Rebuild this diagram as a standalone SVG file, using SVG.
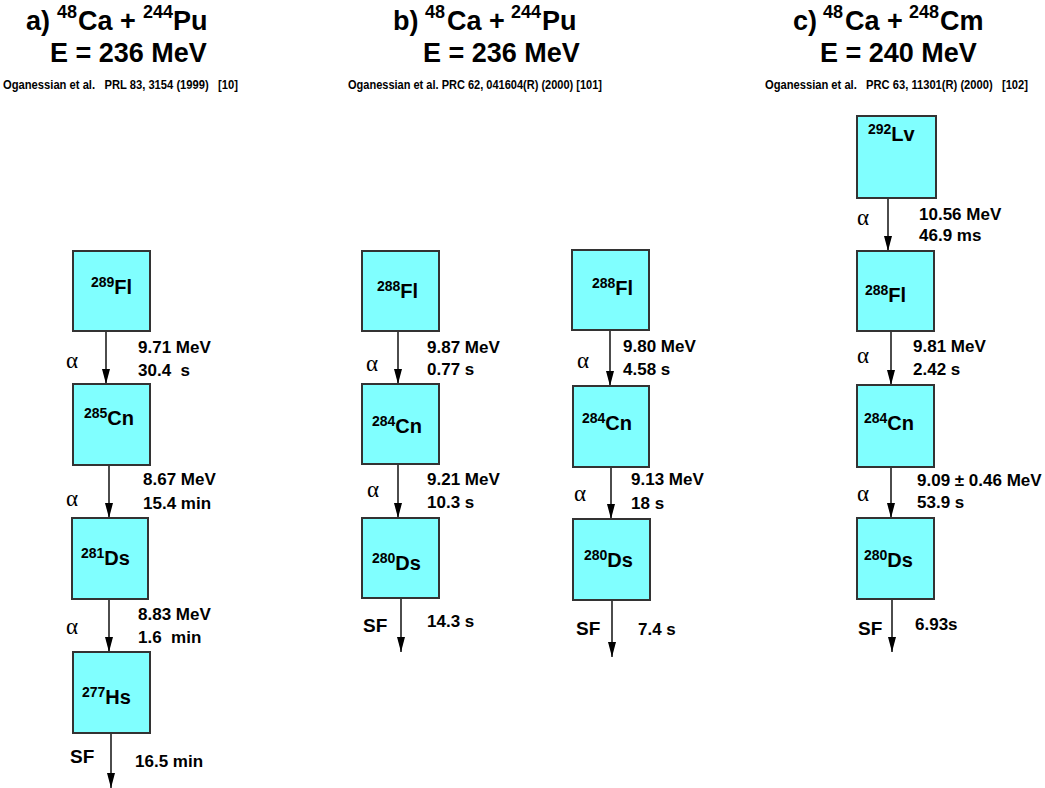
<svg xmlns="http://www.w3.org/2000/svg" width="1045" height="788" viewBox="0 0 1045 788">
<style>
text{font-family:"Liberation Sans",Arial,Helvetica,sans-serif;font-weight:bold;fill:#000}
.box{fill:#80FFFF;stroke:#333;stroke-width:2}
.lbl{font-size:20px}
.sup{font-size:14px}
.val{font-size:17px}
.al{font-family:"Liberation Serif","Times New Roman",serif;font-weight:normal;font-size:23px}
.sf{font-size:19px}
.t1{font-size:27px}
.ts{font-size:18px}
.ref{font-size:12px}
#connectors line{stroke:#000;stroke-width:1.4;marker-end:url(#ah)}
</style>
<defs>
<marker id="ah" viewBox="0 -4 15 8" refX="15" refY="0" markerWidth="15" markerHeight="8" markerUnits="userSpaceOnUse" orient="auto">
<path d="M0,-4 L15,0 L0,4 Z" fill="#000"/>
</marker>
</defs>
<rect width="1045" height="788" fill="#fff"/>

<g id="titles">
<text class="t1" y="30"><tspan x="26">a)</tspan><tspan class="ts" x="57" y="18">48</tspan><tspan x="78" y="30">Ca</tspan><tspan x="120">+</tspan><tspan class="ts" x="143" y="18">244</tspan><tspan x="173" y="30">Pu</tspan></text>
<text class="t1" x="50" y="62">E = 236 MeV</text>
<text class="ref" x="3" y="89" xml:space="preserve" textLength="235" lengthAdjust="spacingAndGlyphs">Oganessian et al.   PRL 83, 3154 (1999)   [10]</text>

<text class="t1" y="30"><tspan x="393">b)</tspan><tspan class="ts" x="425" y="18">48</tspan><tspan x="447" y="30">Ca</tspan><tspan x="489">+</tspan><tspan class="ts" x="511" y="18">244</tspan><tspan x="542" y="30">Pu</tspan></text>
<text class="t1" x="423" y="62">E = 236 MeV</text>
<text class="ref" x="348" y="89" textLength="254" lengthAdjust="spacingAndGlyphs">Oganessian et al. PRC 62, 041604(R) (2000) [101]</text>

<text class="t1" y="30"><tspan x="793">c)</tspan><tspan class="ts" x="823" y="18">48</tspan><tspan x="845" y="30">Ca</tspan><tspan x="887">+</tspan><tspan class="ts" x="909" y="18">248</tspan><tspan x="940" y="30">Cm</tspan></text>
<text class="t1" x="820" y="62">E = 240 MeV</text>
<text class="ref" x="765" y="89" xml:space="preserve" textLength="263" lengthAdjust="spacingAndGlyphs">Oganessian et al.   PRC 63, 11301(R) (2000)   [102]</text>
</g>

<g id="connectors">
<line x1="106" y1="332" x2="106" y2="384"/>
<line x1="109" y1="466" x2="109" y2="518"/>
<line x1="109" y1="600" x2="109" y2="652"/>
<line x1="111" y1="734" x2="111" y2="788"/>
<line x1="398" y1="332" x2="398" y2="384"/>
<line x1="398" y1="465" x2="398" y2="518"/>
<line x1="401" y1="599" x2="401" y2="652"/>
<line x1="610" y1="331" x2="610" y2="386"/>
<line x1="611" y1="467" x2="611" y2="519"/>
<line x1="612" y1="601" x2="612" y2="657"/>
<line x1="888" y1="199" x2="888" y2="251"/>
<line x1="891" y1="332" x2="891" y2="385"/>
<line x1="891" y1="468" x2="891" y2="518"/>
<line x1="892" y1="600" x2="892" y2="652"/>
</g>

<g id="a-Fl289"><rect class="box" x="73" y="251" width="77" height="80"/><text class="lbl" x="91" y="294"><tspan class="sup" dy="-7">289</tspan><tspan dy="7">Fl</tspan></text></g>
<g id="a-Cn285"><rect class="box" x="73" y="384" width="77" height="81"/><text class="lbl" x="84" y="425"><tspan class="sup" dy="-7">285</tspan><tspan dy="7">Cn</tspan></text></g>
<g id="a-Ds281"><rect class="box" x="72" y="518" width="76" height="81"/><text class="lbl" x="81" y="565"><tspan class="sup" dy="-7">281</tspan><tspan dy="7">Ds</tspan></text></g>
<g id="a-Hs277"><rect class="box" x="73" y="652" width="77" height="81"/><text class="lbl" x="82" y="704"><tspan class="sup" dy="-7">277</tspan><tspan dy="7">Hs</tspan></text></g>

<g id="b1-Fl288"><rect class="box" x="362" y="251" width="77" height="80"/><text class="lbl" x="377" y="298"><tspan class="sup" dy="-7">288</tspan><tspan dy="7">Fl</tspan></text></g>
<g id="b1-Cn284"><rect class="box" x="362" y="384" width="77" height="80"/><text class="lbl" x="372" y="433"><tspan class="sup" dy="-7">284</tspan><tspan dy="7">Cn</tspan></text></g>
<g id="b1-Ds280"><rect class="box" x="362" y="518" width="77" height="80"/><text class="lbl" x="372" y="570"><tspan class="sup" dy="-7">280</tspan><tspan dy="7">Ds</tspan></text></g>

<g id="b2-Fl288"><rect class="box" x="572" y="250" width="77" height="80"/><text class="lbl" x="592" y="295"><tspan class="sup" dy="-7">288</tspan><tspan dy="7">Fl</tspan></text></g>
<g id="b2-Cn284"><rect class="box" x="573" y="386" width="76" height="81"/><text class="lbl" x="582" y="430"><tspan class="sup" dy="-7">284</tspan><tspan dy="7">Cn</tspan></text></g>
<g id="b2-Ds280"><rect class="box" x="573" y="519" width="77" height="81"/><text class="lbl" x="584" y="567"><tspan class="sup" dy="-7">280</tspan><tspan dy="7">Ds</tspan></text></g>

<g id="c-Lv292"><rect class="box" x="857" y="116" width="79" height="82"/><text class="lbl" x="868" y="141"><tspan class="sup" dy="-7">292</tspan><tspan dy="7">Lv</tspan></text></g>
<g id="c-Fl288"><rect class="box" x="857" y="251" width="77" height="80"/><text class="lbl" x="865" y="302"><tspan class="sup" dy="-7">288</tspan><tspan dy="7">Fl</tspan></text></g>
<g id="c-Cn284"><rect class="box" x="857" y="385" width="77" height="82"/><text class="lbl" x="864" y="430"><tspan class="sup" dy="-7">284</tspan><tspan dy="7">Cn</tspan></text></g>
<g id="c-Ds280"><rect class="box" x="857" y="518" width="77" height="81"/><text class="lbl" x="864" y="567"><tspan class="sup" dy="-7">280</tspan><tspan dy="7">Ds</tspan></text></g>

<g id="decay-labels">
<text class="al" x="66" y="368">α</text>
<text class="val" x="138" y="353">9.71 MeV</text>
<text class="val" x="138" y="376" xml:space="preserve">30.4  s</text>
<text class="al" x="66" y="506">α</text>
<text class="val" x="143" y="485">8.67 MeV</text>
<text class="val" x="143" y="509">15.4 min</text>
<text class="al" x="66" y="634">α</text>
<text class="val" x="138" y="620">8.83 MeV</text>
<text class="val" x="138" y="643" xml:space="preserve">1.6  min</text>
<text class="sf" x="70" y="763">SF</text>
<text class="val" x="135" y="767">16.5 min</text>

<text class="al" x="366" y="371">α</text>
<text class="val" x="427" y="353">9.87 MeV</text>
<text class="val" x="427" y="375">0.77 s</text>
<text class="al" x="367" y="497">α</text>
<text class="val" x="427" y="485">9.21 MeV</text>
<text class="val" x="427" y="508">10.3 s</text>
<text class="sf" x="363" y="632">SF</text>
<text class="val" x="427" y="627">14.3 s</text>

<text class="al" x="577" y="368">α</text>
<text class="val" x="623" y="352">9.80 MeV</text>
<text class="val" x="623" y="375">4.58 s</text>
<text class="al" x="574" y="501">α</text>
<text class="val" x="631" y="485">9.13 MeV</text>
<text class="val" x="631" y="509">18 s</text>
<text class="sf" x="576" y="635">SF</text>
<text class="val" x="638" y="635">7.4 s</text>

<text class="al" x="857" y="225">α</text>
<text class="val" x="919" y="220">10.56 MeV</text>
<text class="val" x="919" y="241">46.9 ms</text>
<text class="al" x="857" y="363">α</text>
<text class="val" x="913" y="352">9.81 MeV</text>
<text class="val" x="913" y="375">2.42 s</text>
<text class="al" x="857" y="501">α</text>
<text class="val" x="917" y="486">9.09 ± 0.46 MeV</text>
<text class="val" x="917" y="508">53.9 s</text>
<text class="sf" x="858" y="635">SF</text>
<text class="val" x="915" y="630">6.93s</text>
</g>
</svg>
